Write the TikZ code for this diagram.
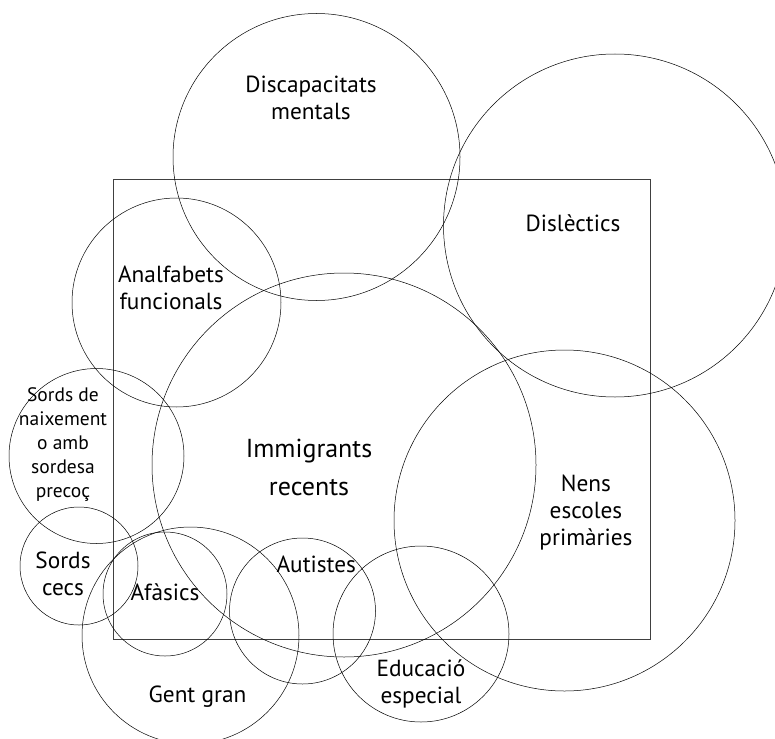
\documentclass[tikz,border=0pt]{standalone}
\usepackage{fontspec}
\setmainfont{PT Sans}
\begin{document}
\begin{tikzpicture}[x=1pt,y=-1pt,
  ring/.style={circle,draw=black,line width=0.5pt,inner sep=0pt,minimum size=#1},
  lab/.style={inner sep=0pt,anchor=base,align=center,font=\fontsize{23.3}{27}\selectfont},
  biglab/.style={lab,font=\fontsize{26}{37.5}\selectfont},
  smalllab/.style={lab,font=\fontsize{19.5}{23.9}\selectfont},
  frame/.style={draw=black!75,line width=0.9pt}]
\useasboundingbox (0,0) rectangle (775,738);
\fill[white] (0,0) rectangle (775,738);
\node[frame,rectangle,inner sep=0pt,minimum width=537pt,minimum height=460pt,anchor=north west] (box) at (113,179) {};
\node[ring=287pt] (dm) at (316.5,157) {};
\node[ring=343pt] (dis) at (615,225.5) {};
\node[ring=209pt] (an) at (176.5,302.5) {};
\node[ring=384pt] (im) at (344,465) {};
\node[ring=341pt] (nens) at (564.5,520.5) {};
\node[ring=175pt] (sn) at (96.5,456) {};
\node[ring=118pt] (sc) at (79,566) {};
\node[ring=124pt] (af) at (165,594) {};
\node[ring=217pt] (gg) at (190.5,635.5) {};
\node[ring=146pt] (au) at (302.5,611) {};
\node[ring=176pt] (ed) at (421,634) {};
\node[lab] (ldm) at (311,119.3) {Discapacitats\\mentals};
\node[lab] (ldis) at (573,231.7) {Dislèctics};
\node[lab] (lan) at (171,309.3) {Analfabets\\funcionals};
\node[biglab] (lim) at (309,495) {Immigrants\\recents};
\node[smalllab] (lsn) at (63,497.3) {Sords de\\naixement\\o amb\\sordesa\\precoç};
\node[lab] (lsc) at (63,595) {Sords\\cecs};
\node[lab] (laf) at (165,600.7) {Afàsics};
\node[lab] (lau) at (316.3,572.7) {Autistes};
\node[lab] (lgg) at (197.5,702.7) {Gent gran};
\node[lab] (lnens) at (586,545.7) {Nens\\escoles\\primàries};
\node[lab] (led) at (421,703.2) {Educació\\especial};
\end{tikzpicture}
\end{document}
